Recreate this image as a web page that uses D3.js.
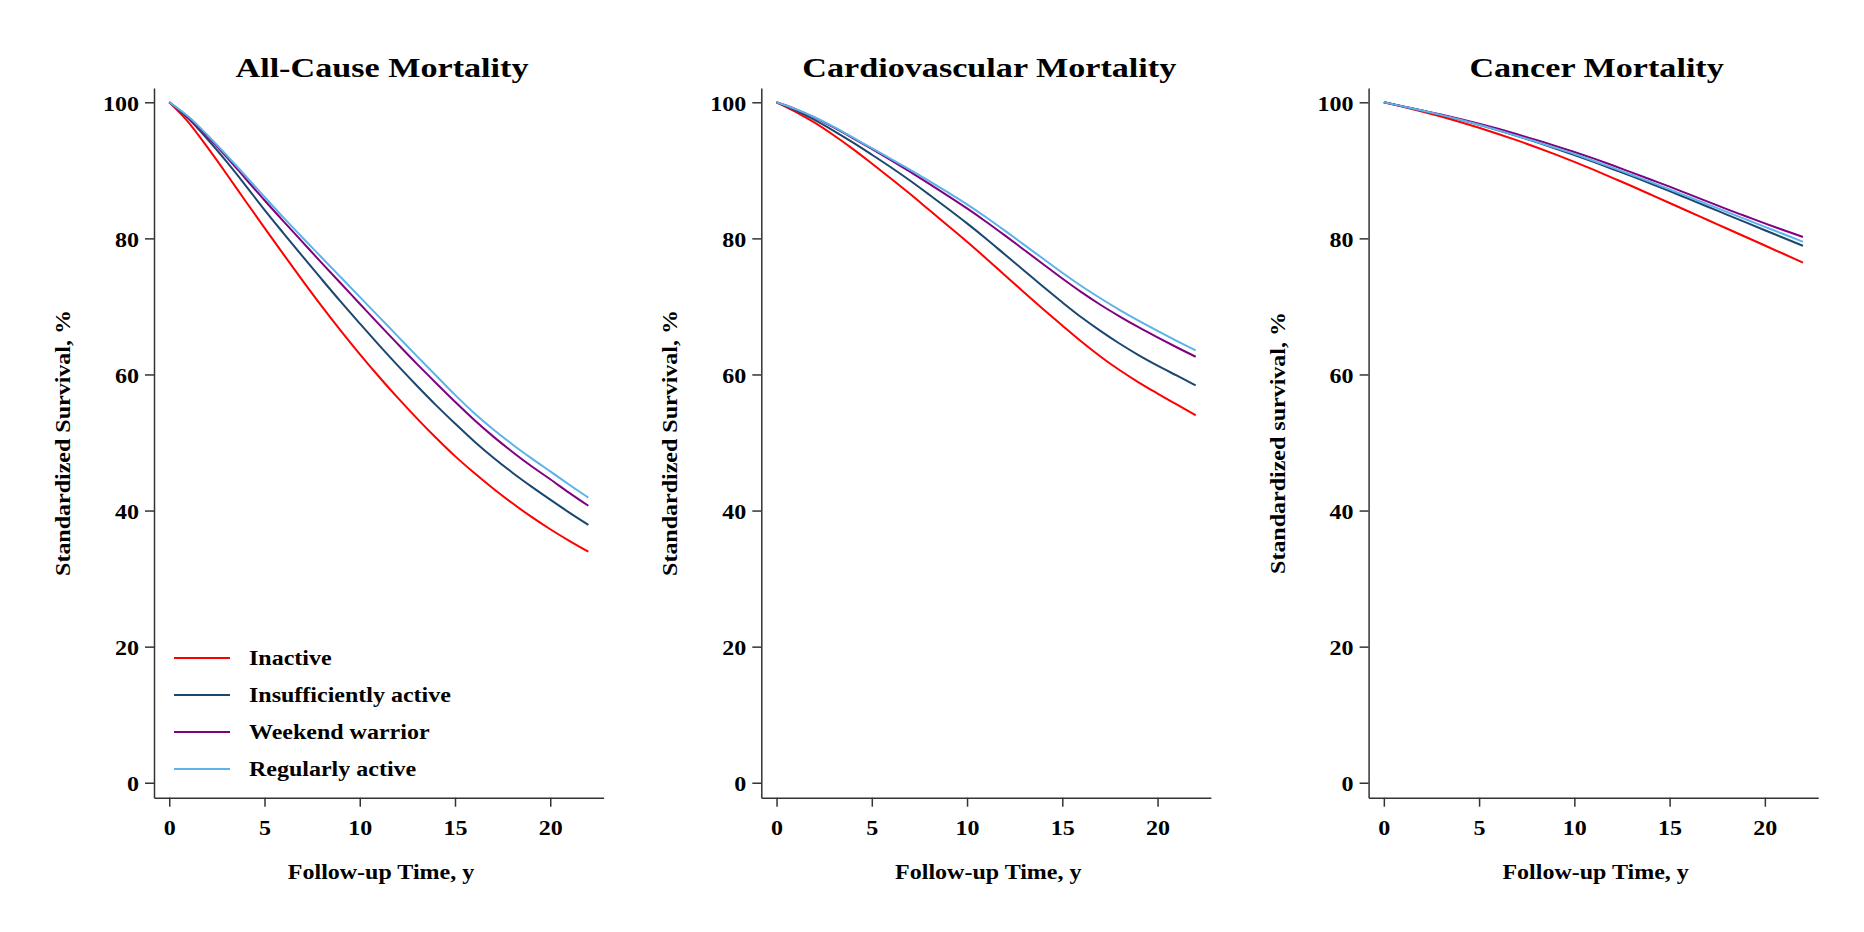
<!DOCTYPE html>
<html>
<head>
<meta charset="utf-8">
<script src="https://cdn.jsdelivr.net/npm/d3@7"></script>
<style>
  body { margin: 0; background: #fff; }
  text { font-family: "Liberation Serif", "Times New Roman", serif; font-weight: bold; }
</style>
</head>
<body>
<svg id="chart" width="1864" height="932"></svg>
<script>
// follow-up years
const years = [0, 1, 2, 3, 4, 5, 6, 7, 8, 9, 10, 11, 12, 13, 14, 15, 16, 17, 18, 19, 20, 21, 22];
const xTicks = [0, 5, 10, 15, 20];
const yTicks = [0, 20, 40, 60, 80, 100];

const groups = ["Inactive", "Insufficiently active", "Weekend warrior", "Regularly active"];
const colors = ["#ff0000", "#1a476f", "#800080", "#5cb3e8"];

// all-cause
const allInactive = [100, 97.1, 93.4, 89.5, 85.5, 81.55, 77.65, 73.8, 70.05, 66.45, 63.0, 59.7, 56.55, 53.55, 50.7, 48.0, 45.55, 43.25, 41.1, 39.1, 37.25, 35.55, 33.95];
const allInsuff = [100, 97.6, 94.6, 91.3, 87.8, 84.2, 80.75, 77.35, 74.0, 70.7, 67.5, 64.35, 61.3, 58.35, 55.5, 52.8, 50.2, 47.8, 45.6, 43.55, 41.6, 39.7, 37.9];
const allWeekend = [100, 97.8, 95.0, 92.0, 88.8, 85.6, 82.5, 79.45, 76.4, 73.4, 70.4, 67.4, 64.45, 61.55, 58.75, 56.0, 53.35, 50.9, 48.65, 46.55, 44.6, 42.6, 40.7];
const allRegular = [100, 97.9, 95.2, 92.25, 89.2, 86.1, 83.05, 80.1, 77.2, 74.3, 71.4, 68.5, 65.6, 62.7, 59.85, 57.0, 54.35, 51.95, 49.75, 47.7, 45.75, 43.8, 41.9];

// cardiovascular
const cvdInactive = [100, 98.6, 97.0, 95.15, 93.15, 91.0, 88.8, 86.55, 84.2, 81.85, 79.5, 77.05, 74.55, 72.05, 69.6, 67.2, 64.85, 62.65, 60.65, 58.85, 57.2, 55.6, 54.0];
const cvdInsuff = [100, 98.8, 97.4, 95.8, 94.1, 92.3, 90.45, 88.5, 86.45, 84.35, 82.2, 79.95, 77.6, 75.25, 72.9, 70.6, 68.4, 66.4, 64.55, 62.85, 61.3, 59.85, 58.4];
const cvdWeekend = [100, 99.0, 97.75, 96.3, 94.75, 93.15, 91.5, 89.8, 88.05, 86.25, 84.4, 82.45, 80.4, 78.3, 76.2, 74.1, 72.1, 70.25, 68.55, 66.95, 65.45, 64.0, 62.6];
const cvdRegular = [100, 99.0, 97.8, 96.4, 94.85, 93.25, 91.7, 90.1, 88.45, 86.75, 85.0, 83.1, 81.1, 79.05, 77.0, 74.95, 73.0, 71.2, 69.5, 67.9, 66.4, 64.95, 63.55];

// cancer
const canInactive = [100, 99.35, 98.65, 97.9, 97.1, 96.25, 95.35, 94.4, 93.4, 92.35, 91.25, 90.1, 88.9, 87.7, 86.45, 85.2, 83.95, 82.7, 81.45, 80.2, 78.95, 77.7, 76.45];
const canInsuff = [100, 99.4, 98.8, 98.15, 97.45, 96.7, 95.9, 95.05, 94.15, 93.2, 92.25, 91.25, 90.2, 89.15, 88.05, 86.95, 85.8, 84.65, 83.5, 82.35, 81.2, 80.05, 78.9];
const canWeekend = [100, 99.4, 98.8, 98.2, 97.55, 96.85, 96.1, 95.3, 94.45, 93.6, 92.7, 91.75, 90.75, 89.7, 88.65, 87.6, 86.5, 85.4, 84.3, 83.25, 82.2, 81.2, 80.2];
const canRegular = [100, 99.4, 98.8, 98.15, 97.45, 96.7, 95.9, 95.05, 94.2, 93.3, 92.4, 91.4, 90.4, 89.35, 88.3, 87.2, 86.1, 85.0, 83.9, 82.8, 81.7, 80.6, 79.5];

const panels = [
  { title: "All-Cause Mortality", ylab: "Standardized Survival, %", series: [allInactive, allInsuff, allWeekend, allRegular], legend: true },
  { title: "Cardiovascular Mortality", ylab: "Standardized Survival, %", series: [cvdInactive, cvdInsuff, cvdWeekend, cvdRegular], legend: false },
  { title: "Cancer Mortality", ylab: "Standardized survival, %", series: [canInactive, canInsuff, canWeekend, canRegular], legend: false }
];

const svg = d3.select("#chart");
const panelStep = 607.3;
const stretch = 1.2;
const axisColor = "#333";

const x = d3.scaleLinear().domain([-0.8, 22.8]).range([154, 603.6]);
const y = d3.scaleLinear().domain([-2.2, 102.1]).range([797.7, 88]);

const line = d3.line()
  .x((d, i) => x(years[i]))
  .y(d => y(d))
  .curve(d3.curveMonotoneX);

panels.forEach((p, pi) => {
  const g = svg.append("g").attr("transform", `translate(${pi * panelStep},0)`);

  // title
  g.append("text")
    .attr("transform", `translate(382,77) scale(${stretch + 0.02},1)`)
    .attr("text-anchor", "middle")
    .attr("font-size", 28)
    .attr("fill", "#000")
    .text(p.title);

  // axes
  const xAxis = g.append("g")
    .attr("transform", `translate(0,${y.range()[0]})`)
    .call(d3.axisBottom(x).tickValues(xTicks).tickSize(9).tickSizeOuter(0).tickPadding(14));
  const yAxis = g.append("g")
    .attr("transform", `translate(${x.range()[0]},0)`)
    .call(d3.axisLeft(y).tickValues(yTicks).tickSize(9).tickSizeOuter(0));

  [xAxis, yAxis].forEach(a => {
    a.select(".domain").attr("stroke", axisColor).attr("stroke-width", 1.5);
    a.selectAll(".tick line").attr("stroke", axisColor).attr("stroke-width", 1.5);
    a.selectAll(".tick text")
      .attr("font-size", 20)
      .attr("font-family", "Liberation Serif, Times New Roman, serif")
      .attr("font-weight", "bold")
      .attr("fill", "#000");
  });
  xAxis.selectAll(".tick text").attr("transform", `scale(${stretch},1)`);
  yAxis.selectAll(".tick text")
    .attr("x", -15 / stretch)
    .attr("dy", "0.4em")
    .attr("transform", `scale(${stretch},1)`);

  // axis titles
  g.append("text")
    .attr("transform", `translate(381,879) scale(${stretch},1)`)
    .attr("text-anchor", "middle")
    .attr("font-size", 20)
    .text("Follow-up Time, y");

  g.append("text")
    .attr("transform", `translate(70,443) rotate(-90) scale(${stretch},1)`)
    .attr("text-anchor", "middle")
    .attr("font-size", 20)
    .text(p.ylab);

  // curves
  p.series.forEach((s, si) => {
    g.append("path")
      .datum(s)
      .attr("d", line)
      .attr("fill", "none")
      .attr("stroke", colors[si])
      .attr("stroke-width", 2);
  });

  if (p.legend) {
    const rowY = [658, 695, 732, 769];
    const leg = g.append("g");
    groups.forEach((name, i) => {
      leg.append("line")
        .attr("x1", 174).attr("x2", 230)
        .attr("y1", rowY[i]).attr("y2", rowY[i])
        .attr("stroke", colors[i])
        .attr("stroke-width", 2);
      leg.append("text")
        .attr("transform", `translate(249,${rowY[i] + 7}) scale(${stretch},1)`)
        .attr("font-size", 20)
        .text(name);
    });
  }
});
</script>
</body>
</html>
